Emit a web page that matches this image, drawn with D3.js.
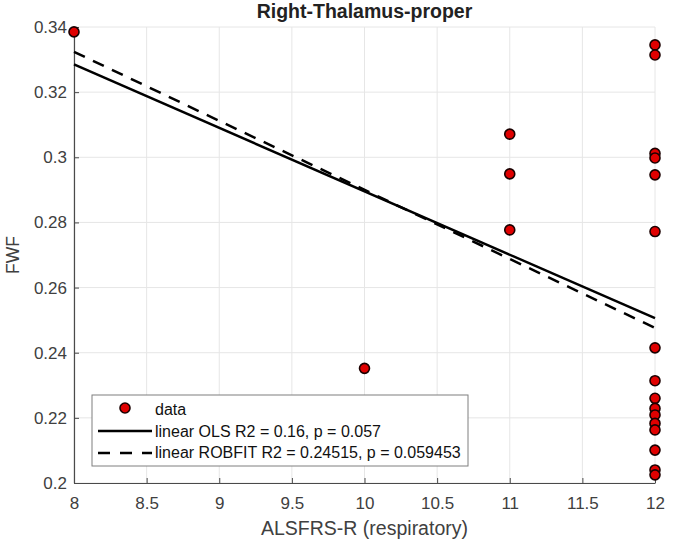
<!DOCTYPE html>
<html>
<head>
<meta charset="utf-8">
<script src="https://unpkg.com/d3@7/dist/d3.min.js"></script>
<style>
  body { margin: 0; background: #fff; }
  text { font-family: "Liberation Sans", Arial, sans-serif; }
</style>
</head>
<body>
<div class="chart"></div>
<script>
// ALSFRS-R respiratory score and FWF value for each subject
const xVals = [8, 10, 11, 11, 11,
  12, 12, 12, 12, 12, 12, 12, 12, 12, 12, 12, 12, 12, 12, 12, 12];
const yVals = [0.3385, 0.2352, 0.3071, 0.2949, 0.2777,
  0.3345, 0.3314, 0.3012, 0.2998, 0.2946, 0.2772, 0.2415, 0.2314, 0.2260,
  0.2229, 0.2209, 0.2183, 0.2163, 0.2101, 0.2040, 0.2025];

// fitted lines, value at x = 8 and x = 12
const fitX = [8, 12];
const olsY = [0.3285, 0.2506];
const robY = [0.3324, 0.2476];

const xTicks = [8, 8.5, 9, 9.5, 10, 10.5, 11, 11.5, 12];
const yTicks = [0.2, 0.22, 0.24, 0.26, 0.28, 0.3, 0.32, 0.34];
const legendLabels = ["data", "linear OLS R2 = 0.16, p = 0.057", "linear ROBFIT R2 = 0.24515, p = 0.059453"];

const W = 675, H = 545;
const margin = { top: 27, right: 20, bottom: 62, left: 74 };
const x0 = margin.left, x1 = 655, y0 = 483, y1 = margin.top;

const svg = d3.select(".chart").append("svg").attr("width", W).attr("height", H);

const xScale = d3.scaleLinear().domain([8, 12]).range([x0, x1]);
const yScale = d3.scaleLinear().domain([0.2, 0.34]).range([y0, y1]);

// grid
svg.append("g").selectAll("line").data(xTicks).enter().append("line")
  .attr("x1", d => xScale(d)).attr("x2", d => xScale(d))
  .attr("y1", y0).attr("y2", y1)
  .attr("stroke", "#e6e6e6").attr("stroke-width", 1);
svg.append("g").selectAll("line").data(yTicks).enter().append("line")
  .attr("x1", x0).attr("x2", x1)
  .attr("y1", d => yScale(d)).attr("y2", d => yScale(d))
  .attr("stroke", "#e6e6e6").attr("stroke-width", 1);

// axes
const xAxis = d3.axisBottom(xScale).tickValues(xTicks).tickSizeInner(-5).tickSizeOuter(0)
  .tickPadding(14).tickFormat(d3.format("~g"));
const gx = svg.append("g").attr("transform", `translate(0,${y0})`).call(xAxis);
const yAxis = d3.axisLeft(yScale).tickValues(yTicks).tickSizeInner(-5).tickSizeOuter(0)
  .tickPadding(7).tickFormat(d3.format("~g"));
const gy = svg.append("g").attr("transform", `translate(${x0},0)`).call(yAxis);
[gx, gy].forEach(g => {
  g.select(".domain").attr("stroke", "#4a4a4a").attr("stroke-width", 1.2);
  g.selectAll(".tick line").attr("stroke", "#4a4a4a");
  g.selectAll(".tick text").attr("fill", "#404040").style("font-size", "17px")
    .style("font-family", "'Liberation Sans', Arial, sans-serif");
});

// fit lines
const line = d3.line().x(d => xScale(d[0])).y(d => yScale(d[1]));
svg.append("path").attr("d", line(fitX.map((d, i) => [d, olsY[i]])))
  .attr("fill", "none").attr("stroke", "#000").attr("stroke-width", 2.5);
svg.append("path").attr("d", line(fitX.map((d, i) => [d, robY[i]])))
  .attr("fill", "none").attr("stroke", "#000").attr("stroke-width", 2.5)
  .attr("stroke-dasharray", "12,9");

// data points
svg.append("g").selectAll("circle").data(xVals).enter().append("circle")
  .attr("cx", d => xScale(d))
  .attr("cy", (d, i) => yScale(yVals[i]))
  .attr("r", 5)
  .attr("fill", "#e00000").attr("stroke", "#1a0000").attr("stroke-width", 1.6);

// title and labels
svg.append("text").attr("x", (x0 + x1) / 2).attr("y", 18)
  .attr("text-anchor", "middle").style("font-size", "19.5px").style("font-weight", "bold")
  .attr("fill", "#222").text("Right-Thalamus-proper");
svg.append("text").attr("x", (x0 + x1) / 2).attr("y", 535)
  .attr("text-anchor", "middle").style("font-size", "19.5px").attr("fill", "#404040")
  .text("ALSFRS-R (respiratory)");
svg.append("text").attr("transform", `translate(19,${(y0 + y1) / 2}) rotate(-90)`)
  .attr("text-anchor", "middle").style("font-size", "17.5px").attr("fill", "#404040")
  .text("FWF");

// legend
const lg = svg.append("g").attr("transform", "translate(92,395)");
lg.append("rect").attr("width", 376).attr("height", 71)
  .attr("fill", "#fff").attr("stroke", "#7f7f7f").attr("stroke-width", 1);
lg.append("circle").attr("cx", 33).attr("cy", 13).attr("r", 5)
  .attr("fill", "#e00000").attr("stroke", "#1a0000").attr("stroke-width", 1.6);
lg.append("line").attr("x1", 6).attr("x2", 60).attr("y1", 36).attr("y2", 36)
  .attr("stroke", "#000").attr("stroke-width", 2.5);
lg.append("line").attr("x1", 6).attr("x2", 60).attr("y1", 58).attr("y2", 58)
  .attr("stroke", "#000").attr("stroke-width", 2.5).attr("stroke-dasharray", "12,10");
lg.selectAll(".lbl").data(legendLabels).enter().append("text")
  .attr("class", "lbl")
  .attr("x", 63).attr("y", (d, i) => 20 + 21.5 * i)
  .style("font-size", "16px").attr("fill", "#111")
  .text(d => d);
</script>
</body>
</html>
